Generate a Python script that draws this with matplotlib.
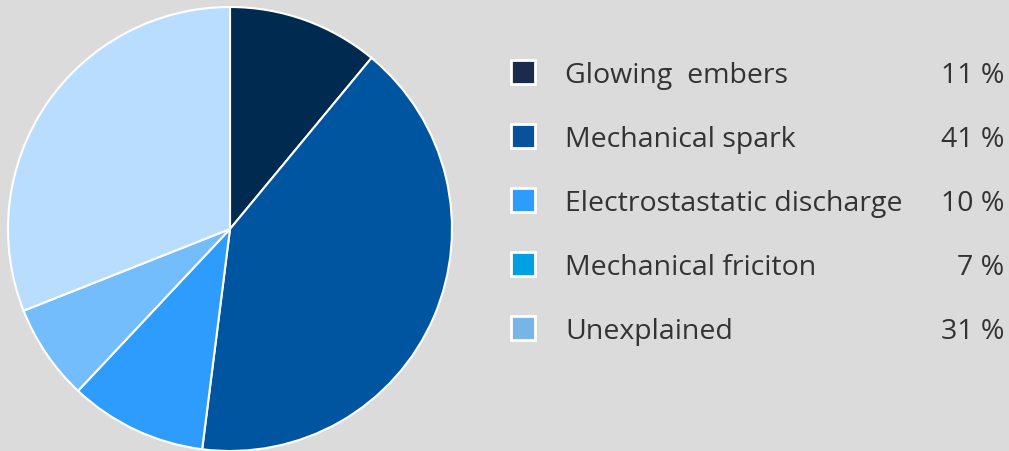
import matplotlib.pyplot as plt
from matplotlib.patches import Rectangle

labels = ["Glowing  embers", "Mechanical spark", "Electrostastatic discharge",
          "Mechanical friciton", "Unexplained"]
shares = [11, 41, 10, 7, 31]
pie_colors = ["#002a50", "#0055a0", "#2d9cfd", "#73bdfd", "#b9ddfe"]
key_colors = ["#1c2b4b", "#08519c", "#2d9cfd", "#00a0e3", "#76b5e5"]

bg = "#dbdbdb"
W, H = 1009, 452
fig = plt.figure(figsize=(W / 100, H / 100), dpi=100, facecolor=bg)

# pie
ax = fig.add_axes([8 / W, 0, 444 / W, 444 / H])
ax.set_facecolor(bg)
ax.pie(shares, colors=pie_colors, startangle=90, counterclock=False,
       wedgeprops=dict(edgecolor="white", linewidth=1.5))
ax.set_xlim(-1, 1)
ax.set_ylim(-1, 1)
ax.set_aspect("equal")
ax.axis("off")

# legend, drawn in pixel coords
lg = fig.add_axes([0, 0, 1, 1])
lg.set_xlim(0, W)
lg.set_ylim(H, 0)
lg.axis("off")
lg.patch.set_alpha(0)

y0, step = 73, 64
font = dict(fontsize=20.5, family="Open Sans", color="#333333", va="baseline")
for i, (name, val) in enumerate(zip(labels, shares)):
    y = y0 + i * step
    lg.add_patch(Rectangle((511, y - 12), 24, 24, facecolor=key_colors[i],
                           edgecolor="white", linewidth=2))
    lg.text(565, y + 10, name, ha="left", **font)
    lg.text(1004, y + 10, f"{val} %", ha="right", **font)

fig.savefig("out.png", dpi=100, facecolor=bg)
